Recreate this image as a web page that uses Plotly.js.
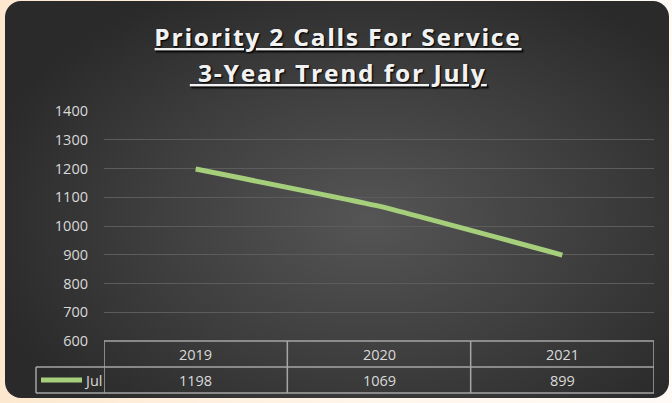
<!DOCTYPE html>
<html>
<head>
<meta charset="utf-8">
<script src="https://cdn.plot.ly/plotly-3.0.1.min.js"></script>
<style>
  html, body { margin: 0; padding: 0; width: 672px; height: 403px; overflow: hidden;
    background: linear-gradient(90deg, #fde8cf 0%, #fff6ec 60%, #fffaf5 100%); }
  #card { position: absolute; left: 5px; top: 1px; width: 664px; height: 397px; border-radius: 16px;
    background: radial-gradient(ellipse 60% 65% at 55% 55%, #555555 0%, #3e3e3e 55%, #2a2a2a 100%); }
  #chart { position: absolute; left: 0; top: 0; width: 672px; height: 403px; }
</style>
</head>
<body>
<div id="card"></div>
<div id="chart"></div>
<script>
const titleLines = ["Priority 2 Calls For Service", "3-Year Trend for July"];
const categories = ["2019", "2020", "2021"];
const seriesName = "Jul";
const seriesValues = [1198, 1069, 899];
const yRange = [600, 1400];

const lineColor = "#a5cf7b";
const gridColor = "#5c5c5c";
const tableColor = "#a6a6a6";
const textColor = "#d9d9d9";
const baseFont = "Open Sans, sans-serif";

// plot area: 550 x 230 px starting at (104, 111)
const plotLeft = 104, plotTop = 111, plotW = 550, plotH = 230;
const py = p => (plotTop + plotH - p) / plotH;   // pixel y -> paper y
const px = p => (p - plotLeft) / plotW;           // pixel x -> paper x

const rowTop = 0, rowMid = py(367), rowBot = py(393);
const legendLeft = px(36);

const shapes = [];
const tl = {color: tableColor, width: 1.5};
shapes.push({type: "line", xref: "x", yref: "paper", x0: -0.5, x1: categories.length - 0.5, y0: rowTop, y1: rowTop, line: tl});
shapes.push({type: "line", xref: "paper", yref: "paper", x0: legendLeft, x1: 1, y0: rowMid, y1: rowMid, line: tl});
shapes.push({type: "line", xref: "paper", yref: "paper", x0: legendLeft, x1: 1, y0: rowBot, y1: rowBot, line: tl});
shapes.push({type: "line", xref: "paper", yref: "paper", x0: legendLeft, x1: legendLeft, y0: rowMid, y1: rowBot, line: tl});
for (let i = 0; i <= categories.length; i++) {
  shapes.push({type: "line", xref: "x", yref: "paper", x0: i - 0.5, x1: i - 0.5, y0: rowTop, y1: rowBot, line: tl});
}
// legend key
shapes.push({type: "line", xref: "paper", yref: "paper", x0: px(41), x1: px(82), y0: (rowMid + rowBot) / 2, y1: (rowMid + rowBot) / 2, line: {color: lineColor, width: 5}});

const cellFont = {family: baseFont, size: 14.5, color: textColor};
const annotations = [];
categories.forEach((c, i) => {
  annotations.push({x: i, xref: "x", y: (rowTop + rowMid) / 2, yref: "paper", text: c, showarrow: false,
    font: cellFont, xanchor: "center", yanchor: "middle"});
  annotations.push({x: i, xref: "x", y: (rowMid + rowBot) / 2, yref: "paper", text: String(seriesValues[i]), showarrow: false,
    font: cellFont, xanchor: "center", yanchor: "middle"});
});
annotations.push({x: px(104), xref: "paper", y: (rowMid + rowBot) / 2, yref: "paper", text: seriesName, showarrow: false,
  font: cellFont, xanchor: "right", yanchor: "middle", xshift: 0});
// title lines
const titleY = [36, 72];
titleLines.forEach((t, i) => {
  annotations.push({x: px(338), xref: "paper", y: py(titleY[i]), yref: "paper", text: (i === 1 ? " " : "") + t, showarrow: false,
    font: {family: baseFont, size: 24, weight: 700, color: "#f2f2f2", lineposition: "under", shadow: "1px 1px 1.5px rgba(0,0,0,0.8)"},
    xanchor: "center", yanchor: "middle"});
});

const trace = {
  x: categories, y: seriesValues, name: seriesName, type: "scatter", mode: "lines",
  line: {color: lineColor, width: 5, shape: "spline", smoothing: 0.3},
  hoverinfo: "skip"
};

const layout = {
  width: 672, height: 403,
  margin: {l: plotLeft, r: 672 - plotLeft - plotW, t: plotTop, b: 403 - plotTop - plotH},
  paper_bgcolor: "rgba(0,0,0,0)", plot_bgcolor: "rgba(0,0,0,0)",
  showlegend: false,
  xaxis: {type: "category", range: [-0.5, 2.5], showticklabels: false, showgrid: false, zeroline: false, showline: false, ticks: ""},
  yaxis: {range: yRange, dtick: 100, showgrid: true, gridcolor: gridColor, gridwidth: 1, zeroline: false, showline: false,
    ticks: "", ticklabelstandoff: 15,
    tickfont: {family: baseFont, size: 14.5, color: textColor}},
  shapes: shapes,
  annotations: annotations
};

Plotly.newPlot("chart", [trace], layout, {displayModeBar: false, staticPlot: true}).then(gd => {
  // widen title letter spacing to match the reference's spaced lettering
  const targets = [367, 297];
  const texts = gd.querySelectorAll(".annotation-text");
  Array.from(texts).forEach(t => {
    const idx = titleLines.indexOf(t.textContent.trim());
    if (idx < 0) return;
    const w = t.getComputedTextLength();
    const n = t.textContent.length;
    t.style.letterSpacing = ((targets[idx] - w) / n) + "px";
  });
});
</script>
</body>
</html>
